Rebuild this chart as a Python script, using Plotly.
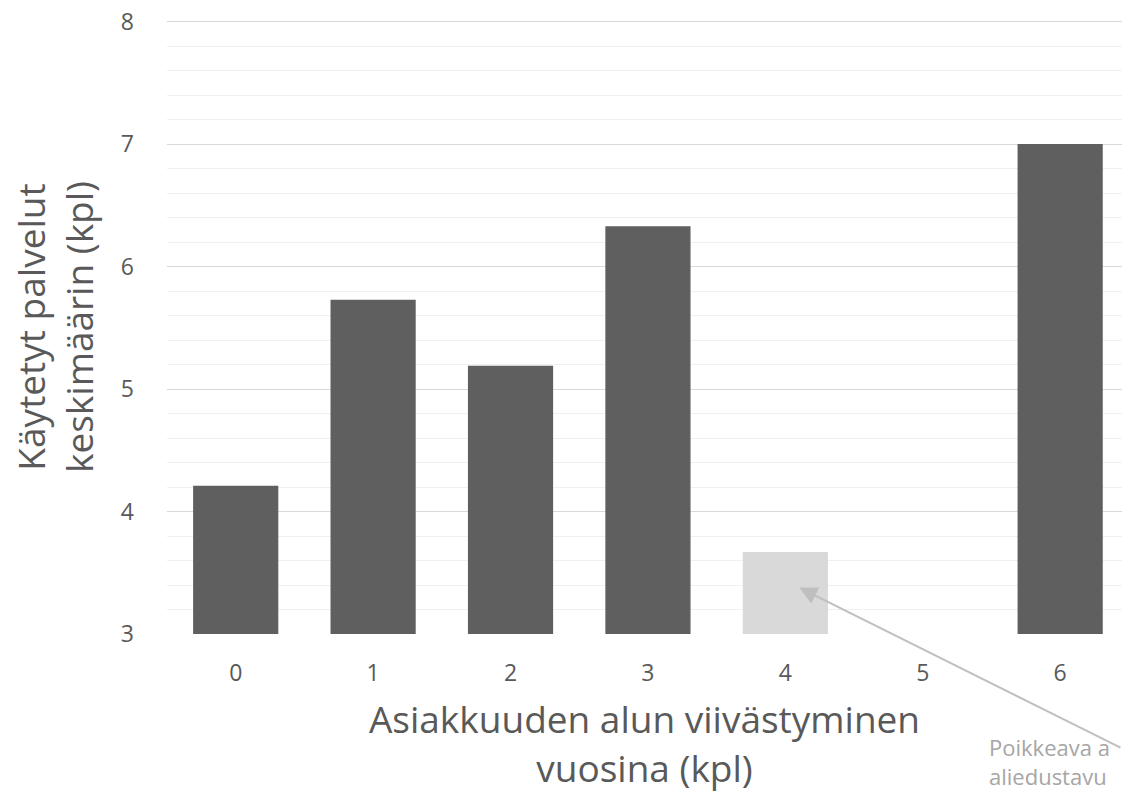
import plotly.graph_objects as go

categories = ["0", "1", "2", "3", "4", "5", "6"]
values = [4.21, 5.73, 5.19, 6.33, 3.67, None, 7.0]
bar_colors = ["#5f5f5f", "#5f5f5f", "#5f5f5f", "#5f5f5f", "#d9d9d9", "#5f5f5f", "#5f5f5f"]
x_positions = [0, 1, 2, 3, 4, 5, 6]
y_ticks = [3, 4, 5, 6, 7, 8]
note_lines = ["Poikkeava a", "aliedustavu"]
y_title_lines = ["Käytetyt palvelut", "keskimäärin (kpl)"]
x_title_lines = ["Asiakkuuden alun viivästyminen", "vuosina (kpl)"]

FONT = "Open Sans"
fig = go.Figure()
fig.add_trace(go.Bar(
    x=x_positions, y=values, marker=dict(color=bar_colors, line=dict(width=0)),
    width=0.62, showlegend=False, hoverinfo="skip",
))

fig.update_layout(
    width=1122, height=793,
    margin=dict(l=167, r=0, t=20, b=159, autoexpand=False),
    paper_bgcolor="white", plot_bgcolor="white",
    font=dict(family=FONT, color="#595959"),
)
fig.update_xaxes(
    range=[-0.5, 6.45], tickmode="array", tickvals=x_positions, ticktext=categories,
    showgrid=False, zeroline=False, showline=False, ticks="", automargin=False,
    tickfont=dict(size=23, color="#595959", family=FONT),
    ticklabelstandoff=23,
    title=dict(text="<br>".join(x_title_lines),
               font=dict(size=37, color="#595959", family=FONT), standoff=20),
)
fig.update_yaxes(
    range=[3, 8.013], tickmode="array", tickvals=y_ticks, automargin=False,
    showgrid=True, gridcolor="#d9d9d9", gridwidth=1.3, zeroline=False, showline=False,
    ticks="", tickfont=dict(size=23, color="#595959", family=FONT),
    ticklabelstandoff=32, ticklabeloverflow="allow",
    minor=dict(dtick=0.2, showgrid=True, gridcolor="#f0f0f0", gridwidth=1.3),
)

# y-axis title as a rotated annotation so it can sit close to the left edge
fig.add_annotation(
    x=(54 - 167) / 955, y=0.5, xref="paper", yref="paper",
    text="<br>".join(y_title_lines), showarrow=False, textangle=-90,
    xanchor="center", yanchor="middle",
    font=dict(size=37, color="#595959", family=FONT),
)

# arrow pointing at the anomalous bar
fig.add_annotation(
    x=4.1, y=3.38, xref="x", yref="y", text="", showarrow=True,
    arrowhead=2, arrowsize=1.8, arrowwidth=2, arrowcolor="#bfbfbf",
    ax=400, ay=161, axref="pixel", ayref="pixel",
)
fig.add_annotation(
    x=(987 - 167) / 955, y=-(730 - 634) / 614, xref="paper", yref="paper",
    text="<br>".join(note_lines), showarrow=False,
    xanchor="left", yanchor="top", align="left",
    font=dict(size=22, color="#a6a6a6", family=FONT),
)

fig.write_html("out.html", config={"displayModeBar": False},
               post_script="document.body.style.margin='0';")
